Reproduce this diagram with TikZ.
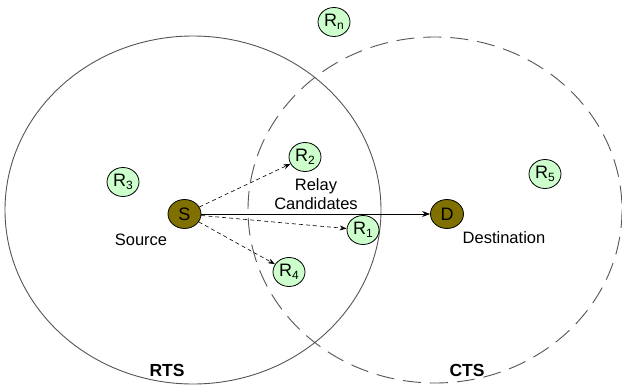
\documentclass[tikz,border=0pt]{standalone}
\usepackage{fontspec}
\setmainfont{Liberation Sans}
\usetikzlibrary{shapes.geometric,arrows.meta}
\definecolor{olivefill}{RGB}{128,112,0}
\definecolor{relayfill}{RGB}{204,255,204}
\definecolor{rangeline}{RGB}{85,85,85}
\newcommand{\rsub}[1]{\raisebox{-3pt}{\fontsize{12}{13}\selectfont #1}}
\begin{document}
\begin{tikzpicture}[x=1pt,y=-1pt,
  endnode/.style={ellipse,draw=black,line width=0.8pt,fill=olivefill,minimum width=33pt,minimum height=29pt,inner sep=0pt,font=\fontsize{18}{20}\selectfont},
  relay/.style={ellipse,draw=black,line width=0.8pt,fill=relayfill,minimum width=32pt,minimum height=29pt,inner sep=0pt,font=\fontsize{18}{20}\selectfont},
  lbl/.style={font=\fontsize{16.5}{19}\selectfont,align=center,inner sep=0pt},
  rangelbl/.style={font=\fontsize{17.5}{20}\selectfont\bfseries,inner sep=0pt},
  rangecirc/.style={draw=rangeline,line width=0.9pt},
  probe/.style={draw=black,line width=0.6pt,dash pattern=on 4pt off 3pt,-{Stealth[length=7pt,width=5pt]}},
  sendarrow/.style={draw=black,line width=0.9pt,-{Stealth[length=8pt,width=6pt]}}
]
\useasboundingbox (0,0) rectangle (622,388);
\fill[white] (0,0) rectangle (622,388);
% range ellipses
\draw[rangecirc] (193,210) ellipse [x radius=188, y radius=174];
\draw[rangecirc,dash pattern=on 18pt off 9pt] (435,210) ellipse [x radius=187, y radius=173];
% nodes
\node[endnode] (S) at (184.5,214) {S};
\node[endnode] (D) at (447,214) {D};
\node[relay] (R1) at (363,230) {R\rsub{1}};
\node[relay] (R2) at (305,157) {R\rsub{2}};
\node[relay] (R3) at (123,182) {R\rsub{3}};
\node[relay] (R4) at (289,272) {R\rsub{4}};
\node[relay] (R5) at (545,174) {R\rsub{5}};
\node[relay] (Rn) at (334,22) {R\rsub{n}};
% labels
\node[lbl] (src) at (141,240) {Source};
\node[lbl] (rc) at (316,194) {Relay\\Candidates};
\node[lbl] (dst) at (504,238) {Destination};
\node[rangelbl] (rts) at (167,370) {RTS};
\node[rangelbl] (cts) at (467,370) {CTS};
% connectors
\draw[sendarrow] (S) -- (D);
\draw[probe] (S) -- (R2);
\draw[probe] (S) -- (R1);
\draw[probe] (S) -- (R4);
\end{tikzpicture}
\end{document}
